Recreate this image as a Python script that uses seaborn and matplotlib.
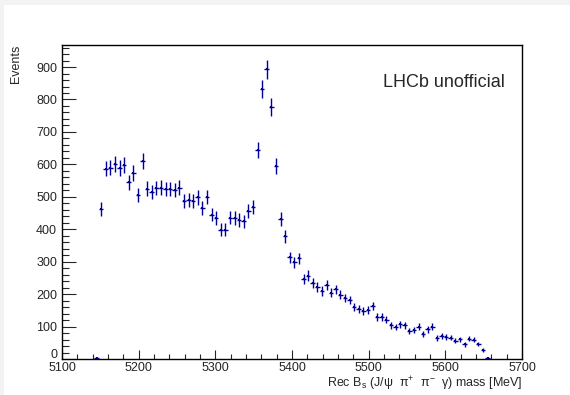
import numpy as np
import pandas as pd
import matplotlib
matplotlib.use("Agg")
import matplotlib.pyplot as plt
import seaborn as sns
from matplotlib.ticker import MultipleLocator, FuncFormatter
from matplotlib.patches import Rectangle

# Datos: histograma de masa reconstruida (bins de 6 MeV)
bin_width = 6
first_center = 5145
events = [2, 463, 587, 590, 602, 589, 597, 545, 574, 506,
          611, 525, 515, 527, 528, 524, 524, 521, 528, 488,
          490, 488, 498, 466, 500, 445, 435, 398, 398, 436,
          435, 429, 424, 457, 468, 645, 832, 893, 776, 594,
          432, 378, 313, 298, 310, 247, 257, 233, 221, 210,
          228, 205, 215, 198, 188, 182, 161, 153, 148, 150,
          164, 129, 129, 121, 104, 99, 107, 104, 86, 89,
          100, 78, 91, 100, 65, 71, 68, 66, 56, 61,
          45, 62, 60, 47, 28, 2]
x_range = (5100, 5700)
y_range = (0, 968)
xlabel = r"Rec B$_{\rm s}$ (J/ψ  π$^{+}$  π$^{-}$  γ) mass [MeV]"
ylabel = "Events"
tag = "LHCb unofficial"

centers = first_center + bin_width * np.arange(len(events))
df = pd.DataFrame({"mass": centers, "events": events})
df["err"] = np.sqrt(df["events"])

sns.set_style("ticks")
plt.rcParams["font.family"] = ["Liberation Sans", "DejaVu Sans"]
plt.rcParams["mathtext.fontset"] = "custom"
plt.rcParams["mathtext.rm"] = "Liberation Sans"
plt.rcParams["mathtext.it"] = "Liberation Sans:italic"

fig = plt.figure(figsize=(5.7, 3.95), dpi=100, facecolor="#f3f3f3")
fig.patches.append(Rectangle((4 / 570, 0), 1, 1 - 5 / 395, transform=fig.transFigure,
                             facecolor="white", edgecolor="none", zorder=-10))
ax = fig.add_axes([62 / 570, (395 - 359) / 395, 460 / 570, 314 / 395])
ax.set_facecolor("white")

blue = "#000099"
ax.errorbar(df["mass"], df["events"], xerr=bin_width / 2, yerr=df["err"],
            fmt="none", ecolor=blue, elinewidth=1.0, capsize=0)
sns.scatterplot(data=df, x="mass", y="events", ax=ax, color=blue, s=2,
                marker="s", linewidth=0, legend=False)

ax.set_xlim(*x_range)
ax.set_ylim(*y_range)
ax.xaxis.set_major_locator(MultipleLocator(100))
ax.xaxis.set_minor_locator(MultipleLocator(20))
ax.yaxis.set_major_locator(MultipleLocator(100))
ax.yaxis.set_minor_locator(MultipleLocator(20))
# el "0" del eje y se dibuja aparte, un poco más arriba (como en ROOT)
ax.yaxis.set_major_formatter(FuncFormatter(lambda v, p: "" if v == 0 else f"{v:.0f}"))
ax.annotate("0", xy=(0, 0), xycoords=("axes fraction", "data"), xytext=(-3.5, 3),
            textcoords="offset points", ha="right", va="center", fontsize=9)

ax.tick_params(axis="x", which="major", direction="in", length=6.8, width=0.8, pad=2, labelsize=9)
ax.tick_params(axis="x", which="minor", direction="in", length=3.4, width=0.8)
ax.tick_params(axis="y", which="major", direction="in", length=9.9, width=0.8, pad=3.5, labelsize=9)
ax.tick_params(axis="y", which="minor", direction="in", length=5, width=0.8)
for s in ax.spines.values():
    s.set_linewidth(1.0)
    s.set_color("black")

ax.set_xlabel(xlabel, fontsize=9, loc="right")
ax.xaxis.set_label_coords(1.0, -0.05)
ax.set_ylabel(ylabel, fontsize=9, loc="top")
ax.yaxis.set_label_coords(-0.087, 1.0)

ax.text(0.698, 0.879, tag, transform=ax.transAxes, fontsize=13,
        ha="left", va="center")

plt.savefig("out.png", dpi=100, facecolor=fig.get_facecolor())
plt.close()
